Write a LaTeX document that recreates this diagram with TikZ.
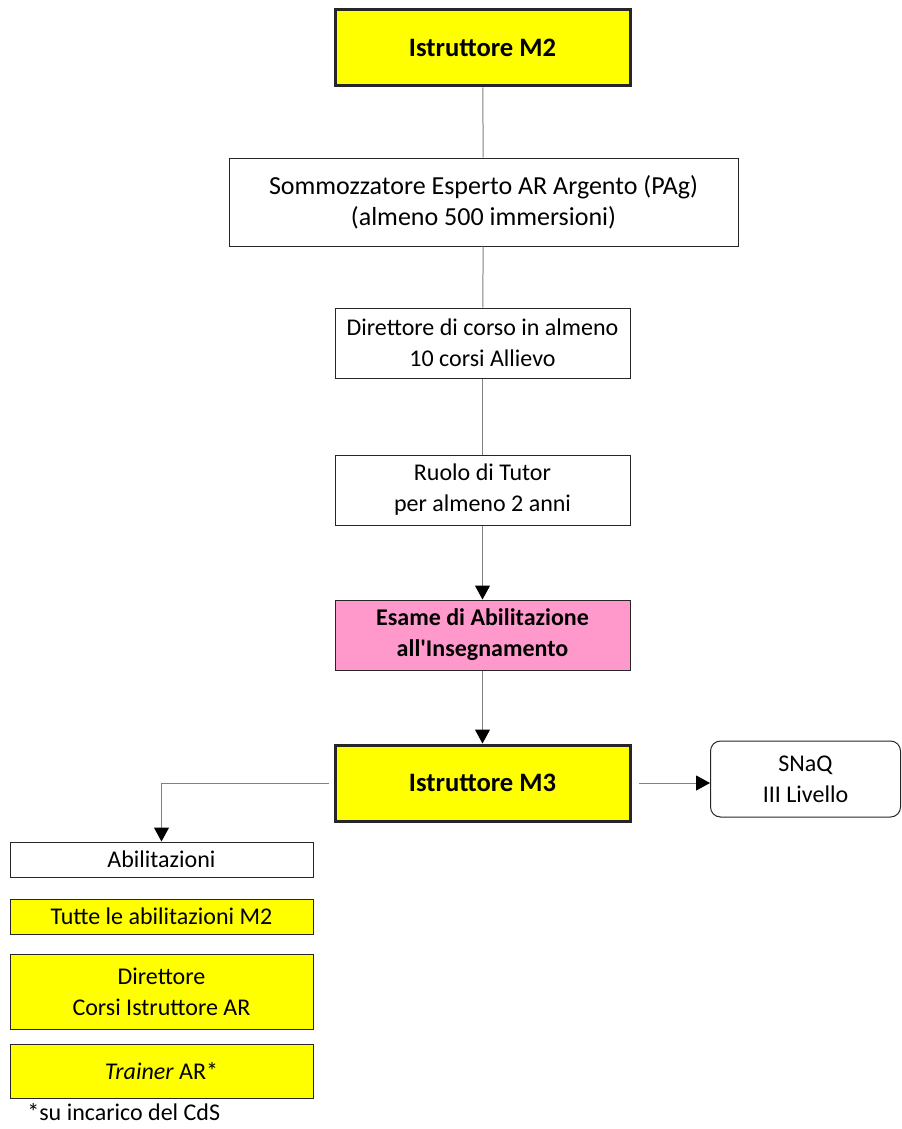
\documentclass[tikz,border=0pt]{standalone}
\usepackage{fontspec}
\setmainfont{Carlito}
\usepackage{xcolor}
\usetikzlibrary{arrows.meta}

\definecolor{boxyellow}{HTML}{FFFF00}
\definecolor{boxpink}{HTML}{FF99CC}
\definecolor{linegray}{HTML}{808080}

\begin{document}
\begin{tikzpicture}[x=0.5pt, y=-0.5pt,
    every node/.style={font=\fontsize{12}{15.5}\selectfont, align=center, inner sep=0pt},
    bigtext/.style={font=\fontsize{13}{15.5}\selectfont},
    plainbox/.style={draw=black!85, line width=0.5pt, fill=white},
    levelbox/.style={draw=black!85, line width=1.5pt, fill=boxyellow, font=\fontsize{13.3}{15.5}\selectfont\bfseries},
    mainw/.style={minimum width=147.5pt},
    leftw/.style={minimum width=151.5pt},
    link/.style={draw=linegray, line width=0.5pt},
    arrow/.style={link, -{Triangle[width=7.5pt, length=7pt, color=black, fill=black]}}]
    \useasboundingbox (0,0) rectangle (901,1129);

    % Main column
    \node[levelbox, mainw, minimum height=38pt] (m2) at (482.5,48) {Istruttore M2};
    \node[plainbox, bigtext, minimum width=254.5pt, minimum height=44pt] (somm) at (483.5,202)
        {Sommozzatore Esperto AR Argento (PAg)\\(almeno 500 immersioni)};
    \node[plainbox, mainw, minimum height=35pt] (dir) at (482.5,343)
        {Direttore di corso in almeno\\10 corsi Allievo};
    \node[plainbox, mainw, minimum height=35pt] (tutor) at (482.5,490)
        {Ruolo di Tutor\\per almeno 2 anni};
    \node[plainbox, fill=boxpink, mainw, minimum height=35pt, font=\fontsize{12}{15.5}\selectfont\bfseries] (esame) at (482.5,635)
        {Esame di Abilitazione\\all\textquotesingle Insegnamento};
    \node[levelbox, mainw, minimum height=38pt] (m3) at (482.5,783) {Istruttore M3};

    % Side box
    \node[plainbox, rounded corners=5pt, minimum width=95pt, minimum height=38pt] (snaq) at (805.5,779)
        {SNaQ\\III Livello};

    % Left column
    \node[plainbox, leftw, minimum height=17.5pt] (abil) at (161.5,859.5) {Abilitazioni};
    \node[plainbox, fill=boxyellow, leftw, minimum height=17.5pt] (tutte) at (161.5,916.5) {Tutte le abilitazioni M2};
    \node[plainbox, fill=boxyellow, leftw, minimum height=37.5pt] (dircorsi) at (161.5,991.5)
        {Direttore\\Corsi Istruttore AR};
    \node[plainbox, fill=boxyellow, leftw, minimum height=27pt] (trainer) at (161.5,1071) {\textit{Trainer} AR*};
    \node[anchor=west] (note) at (27,1112) {*su incarico del CdS};

    % Connectors
    \draw[link] (m2) -- (somm);
    \draw[link] (somm) -- (dir);
    \draw[link] (dir) -- (tutor);
    \draw[arrow] (tutor) -- (esame);
    \draw[arrow] (esame) -- (m3);
    \draw[arrow] ([xshift=3.5pt]m3.east) -- (m3.east -| snaq.west);
    \draw[arrow] ([xshift=-2.5pt]m3.west) -| (abil.north);
\end{tikzpicture}
\end{document}
